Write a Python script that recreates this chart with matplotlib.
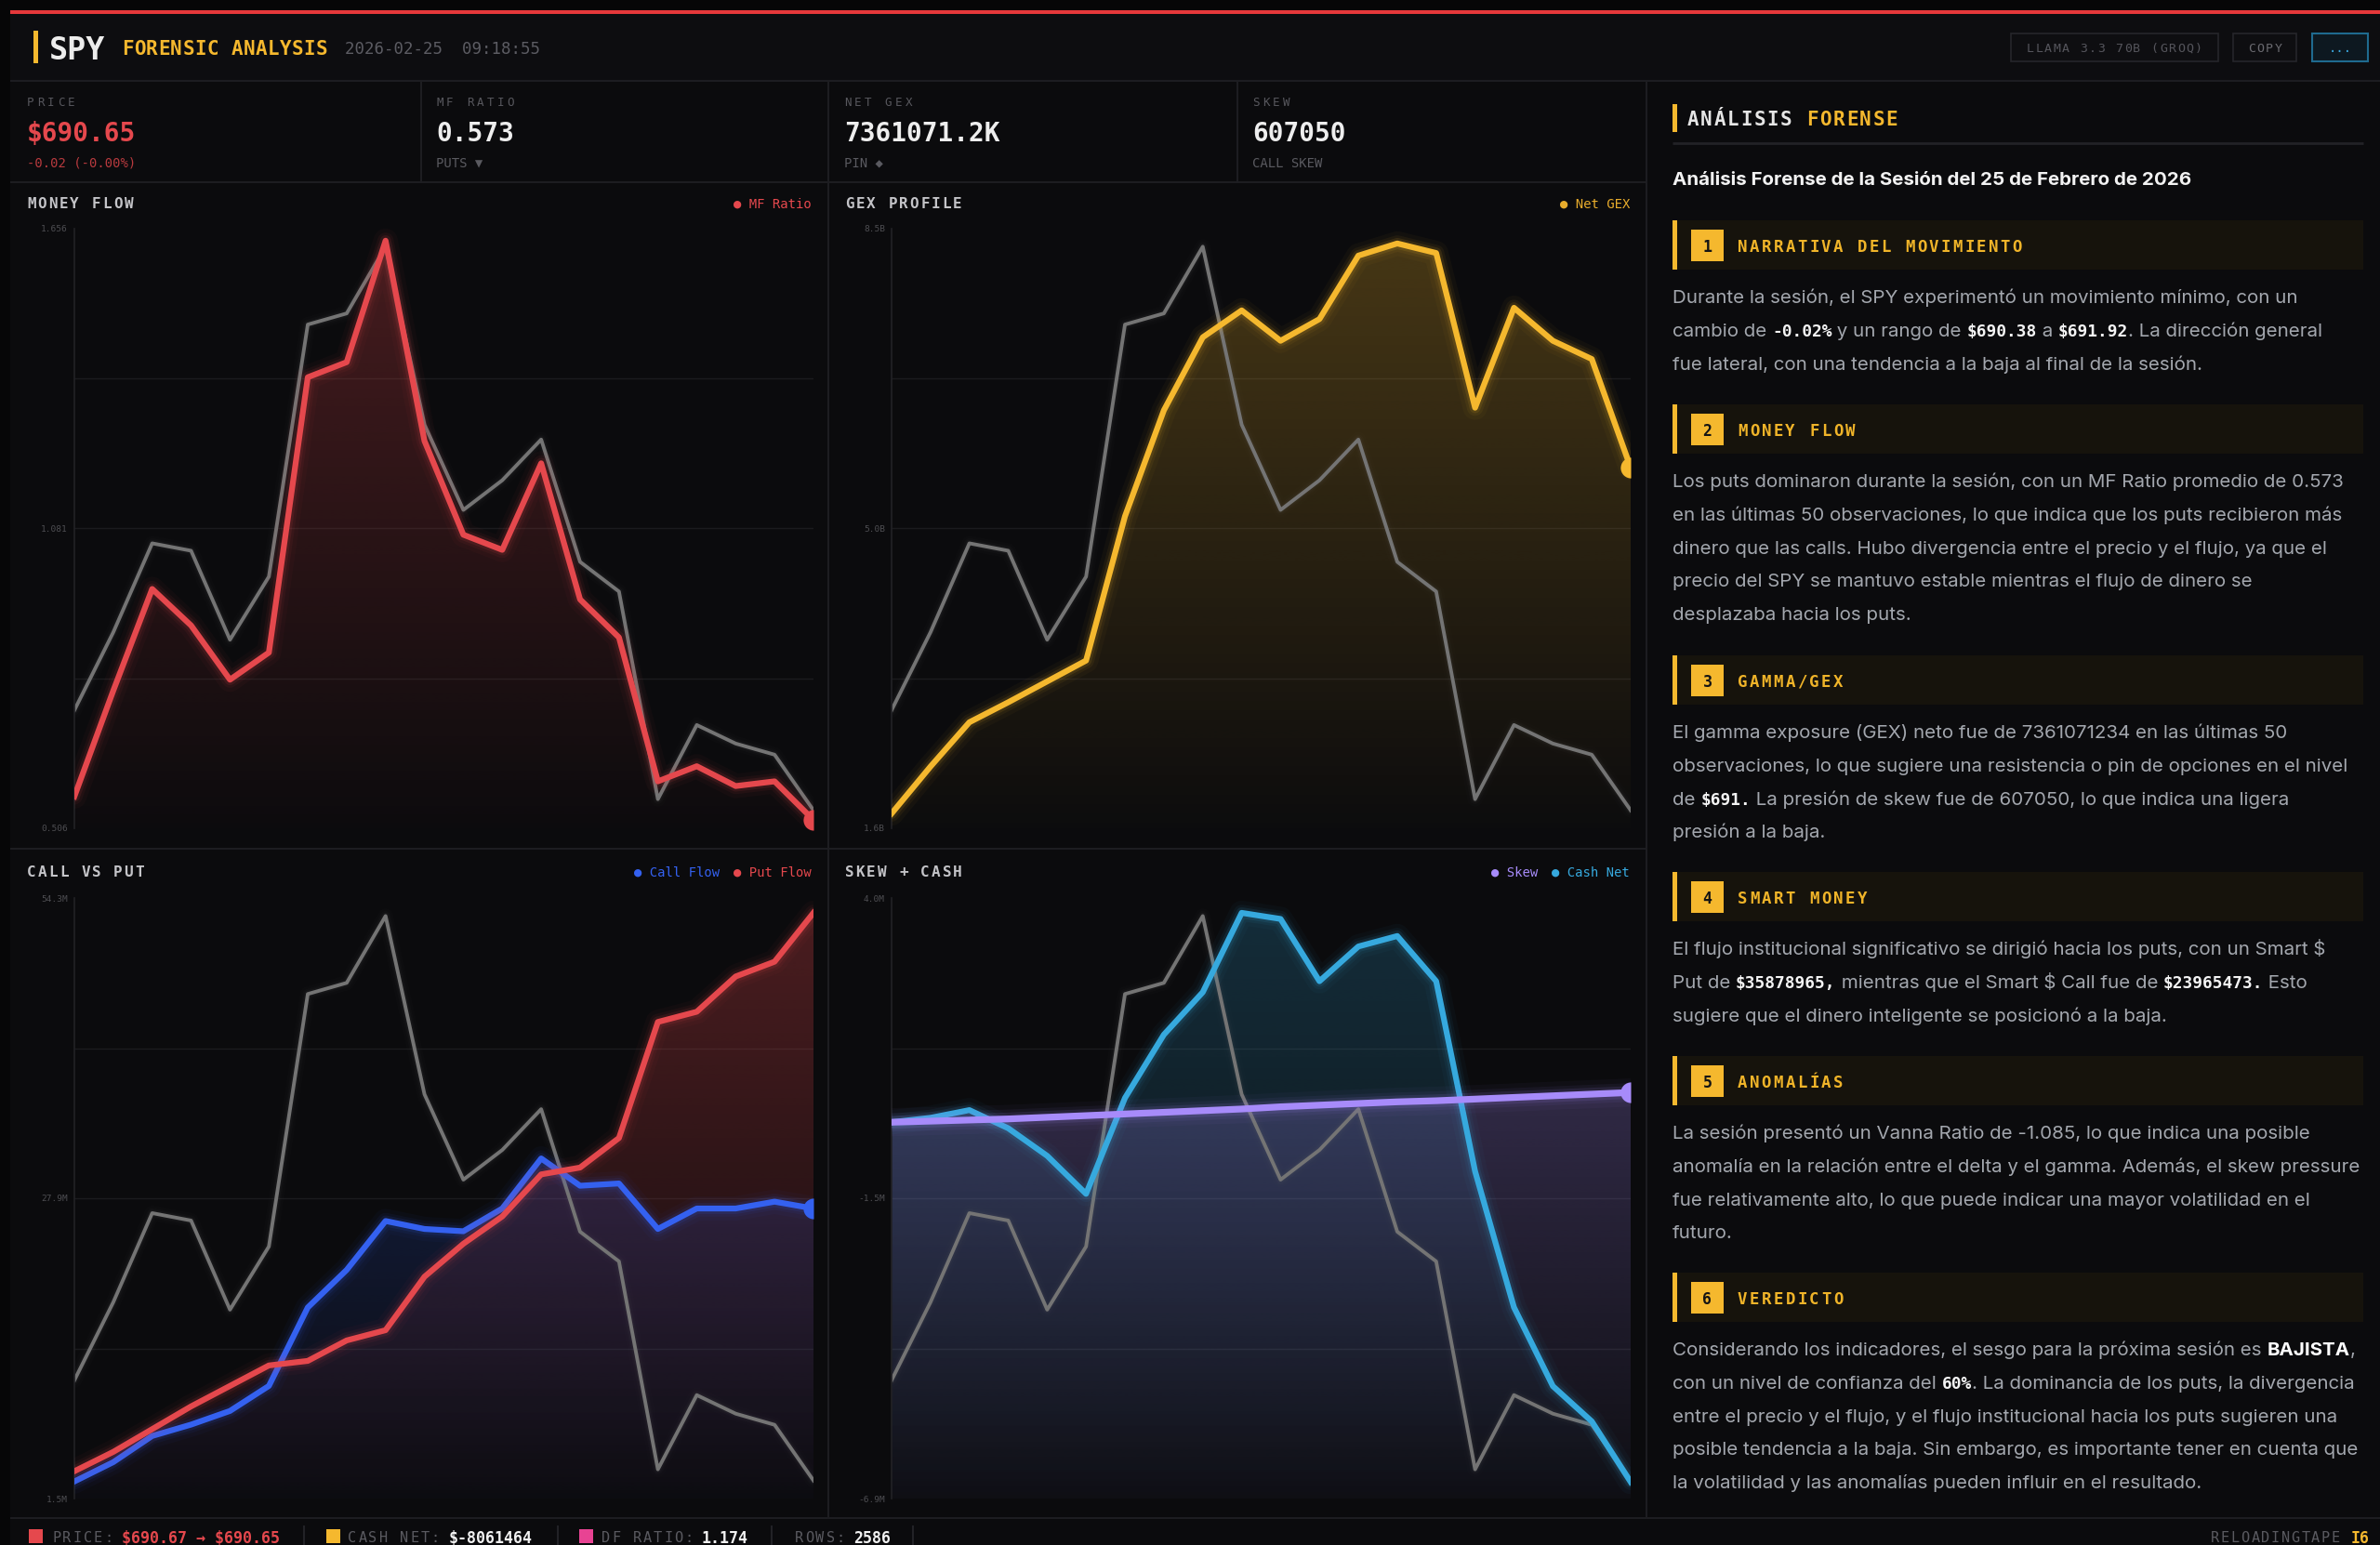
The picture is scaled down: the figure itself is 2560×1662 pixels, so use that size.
import numpy as np
import matplotlib
matplotlib.use("Agg")
import matplotlib.pyplot as plt
import matplotlib.colors as mcolors
from matplotlib.patches import Rectangle, Polygon

plt.rcParams['text.parse_math'] = False

W, H = 2560, 1662
MONO = ['DejaVu Sans Mono', 'DejaVu Sans']
SANS = ['Inter', 'DejaVu Sans']

# ---- values (20 samples per series) ----
price = [690.66, 690.87, 691.11, 691.09, 690.85, 691.02, 691.70, 691.73, 691.91, 691.43,
         691.20, 691.28, 691.39, 691.06, 690.98, 690.42, 690.62, 690.57, 690.54, 690.39]
mf_ratio = [0.567, 0.770, 0.965, 0.895, 0.791, 0.843, 1.371, 1.400, 1.633, 1.249,
            1.069, 1.040, 1.206, 0.945, 0.872, 0.596, 0.625, 0.587, 0.596, 0.522]
net_gex = [1.77, 2.31, 2.82, 3.05, 3.29, 3.53, 5.19, 6.41, 7.25, 7.56,
           7.21, 7.46, 8.19, 8.33, 8.22, 6.44, 7.59, 7.21, 7.00, 5.75]      # B
call_flow = [3.0, 4.7, 7.0, 8.0, 9.2, 11.4, 18.3, 21.6, 25.9, 25.2,
             25.0, 27.0, 31.4, 29.0, 29.2, 25.2, 27.0, 27.0, 27.6, 27.0]   # M
put_flow = [3.9, 5.6, 7.6, 9.6, 11.4, 13.2, 13.6, 15.4, 16.3, 21.0,
            23.9, 26.3, 30.0, 30.6, 33.2, 43.4, 44.3, 47.4, 48.7, 53.0]    # M
skew = [-0.07, -0.05, -0.03, -0.01, 0.02, 0.05, 0.08, 0.11, 0.14, 0.17,
        0.21, 0.24, 0.27, 0.30, 0.32, 0.35, 0.38, 0.41, 0.44, 0.47]        # M
cash_net = [-0.07, 0.01, 0.15, -0.18, -0.68, -1.37, 0.37, 1.52, 2.29, 3.73,
            3.62, 2.49, 3.12, 3.31, 2.49, -0.96, -3.43, -4.86, -5.50, -6.60]  # M

mf_ticks, mf_tick_labels = [0.506, 1.081, 1.656], ["0.506", "1.081", "1.656"]
gex_ticks, gex_tick_labels = [1.6, 5.05, 8.5], ["1.6B", "5.0B", "8.5B"]
cvp_ticks, cvp_tick_labels = [1.5, 27.9, 54.3], ["1.5M", "27.9M", "54.3M"]
sc_ticks, sc_tick_labels = [-6.9, -1.45, 4.0], ["-6.9M", "-1.5M", "4.0M"]

stat_labels = ["PRICE", "MF RATIO", "NET GEX", "SKEW"]
stat_values = ["$690.65", "0.573", "7361071.2K", "607050"]
stat_notes = ["-0.02 (-0.00%)", "PUTS ▼", "PIN ◆", "CALL SKEW"]

subtitle = "Análisis Forense de la Sesión del 25 de Febrero de 2026"
section_titles = ["NARRATIVA DEL MOVIMIENTO", "MONEY FLOW", "GAMMA/GEX",
                  "SMART MONEY", "ANOMALÍAS", "VEREDICTO"]
section_lines = [
    ["Durante la sesión, el SPY experimentó un movimiento mínimo, con un",
     [("cambio de ", "n"), ("-0.02%", "m"), (" y un rango de ", "n"), ("$690.38", "m"),
      (" a ", "n"), ("$691.92", "m"), (". La dirección general", "n")],
     "fue lateral, con una tendencia a la baja al final de la sesión."],
    ["Los puts dominaron durante la sesión, con un MF Ratio promedio de 0.573",
     "en las últimas 50 observaciones, lo que indica que los puts recibieron más",
     "dinero que las calls. Hubo divergencia entre el precio y el flujo, ya que el",
     "precio del SPY se mantuvo estable mientras el flujo de dinero se",
     "desplazaba hacia los puts."],
    ["El gamma exposure (GEX) neto fue de 7361071234 en las últimas 50",
     "observaciones, lo que sugiere una resistencia o pin de opciones en el nivel",
     [("de ", "n"), ("$691.", "m"), (" La presión de skew fue de 607050, lo que indica una ligera", "n")],
     "presión a la baja."],
    ["El flujo institucional significativo se dirigió hacia los puts, con un Smart $",
     [("Put de ", "n"), ("$35878965,", "m"), (" mientras que el Smart $ Call fue de ", "n"),
      ("$23965473.", "m"), (" Esto", "n")],
     "sugiere que el dinero inteligente se posicionó a la baja."],
    ["La sesión presentó un Vanna Ratio de -1.085, lo que indica una posible",
     "anomalía en la relación entre el delta y el gamma. Además, el skew pressure",
     "fue relativamente alto, lo que puede indicar una mayor volatilidad en el",
     "futuro."],
    [[("Considerando los indicadores, el sesgo para la próxima sesión es ", "n"), ("BAJISTA", "b"), (",", "n")],
     [("con un nivel de confianza del ", "n"), ("60%", "m"), (". La dominancia de los puts, la divergencia", "n")],
     "entre el precio y el flujo, y el flujo institucional hacia los puts sugieren una",
     "posible tendencia a la baja. Sin embargo, es importante tener en cuenta que",
     "la volatilidad y las anomalías pueden influir en el resultado."],
]
section_tops = [237, 435, 705, 938, 1136, 1369]

footer_labels = ["PRICE:", "CASH NET:", "DF RATIO:", "ROWS:"]
footer_values = ["$690.67 → $690.65", "$-8061464", "1.174", "2586"]

RED = '#e5484d'; YEL = '#f5b82e'; BLUE = '#3461f0'; PURP = '#a78bfa'
CYAN = '#36a9de'; GRAY = '#747474'; PINK = '#e84393'

fig = plt.figure(figsize=(W / 100, H / 100), dpi=100)
fig.patch.set_facecolor('#060607')
ax0 = fig.add_axes([0, 0, 1, 1])
ax0.set_xlim(0, W); ax0.set_ylim(H, 0); ax0.axis('off')
R = fig.canvas.get_renderer()


def rect(x, y, w, h, fc, ec='none', lw=0, z=0):
    ax0.add_patch(Rectangle((x, y), w, h, fc=fc, ec=ec, lw=lw, zorder=z))


def hline(y, x0, x1, c='#1d1d21', lw=1.5):
    ax0.plot([x0, x1], [y, y], color=c, lw=lw, zorder=1, solid_capstyle='butt')


def vline(x, y0, y1, c='#1d1d21', lw=1.5):
    ax0.plot([x, x], [y0, y1], color=c, lw=lw, zorder=1, solid_capstyle='butt')


def mono(x, y, s, size, color, track=0.0, weight='normal', ha='left', z=3):
    adv = 0.6021 * size / 0.72
    step = adv + track
    total = step * len(s) - track
    if ha == 'right':
        x -= total
    elif ha == 'center':
        x -= total / 2
    if track == 0:
        ax0.text(x, y, s, family=MONO, size=size, color=color, weight=weight,
                 va='center_baseline', ha='left', zorder=z)
    else:
        for i, ch in enumerate(s):
            if ch != ' ':
                ax0.text(x + i * step + adv / 2, y, ch, family=MONO, size=size, color=color,
                         weight=weight, va='center_baseline', ha='center', zorder=z)
    return x + step * len(s)


def run_w(s, props):
    t1 = ax0.text(0, 0, s + '|', **props)
    t2 = ax0.text(0, 0, '|', **props)
    w = t1.get_window_extent(R).width - t2.get_window_extent(R).width
    t1.remove(); t2.remove()
    return w


# ---- frame ----
rect(11, 11, W - 11, H - 11, '#0b0b0d')
rect(11, 15, W - 11, 72, '#0d0d10')
rect(11, 11, W - 11, 4, '#e5383b', z=2)
hline(87, 11, W); hline(196, 11, 1771); hline(913, 11, 1771); hline(1633, 11, W)
for xd in [453, 891, 1331]:
    vline(xd, 88, 196)
vline(891, 196, 1633); vline(1771, 88, 1633)

# ---- header ----
rect(36, 33, 5, 35, YEL, z=2)
mono(53, 51, "SPY", 24, '#ececec', weight='bold')
mono(131, 51, "FORENSIC ANALYSIS", 15, YEL, track=0.5, weight='bold')
mono(371, 51, "2026-02-25  09:18:55", 12.5, '#5c5c63')
rect(2163, 36, 223, 30, '#0e0e11', ec='#26262b', lw=1.2, z=1)
mono(2274.5, 51, "LLAMA 3.3 70B (GROQ)", 9.5, '#55555c', track=1.6, ha='center')
rect(2402, 36, 68, 30, '#0e0e11', ec='#26262b', lw=1.2, z=1)
mono(2436, 51, "COPY", 9.5, '#6a6a70', track=1.6, ha='center')
rect(2487, 36, 60, 30, '#0d1820', ec='#1f6a8f', lw=1.5, z=1)
mono(2517, 51, "...", 10, '#3aa6dd', ha='center')

# ---- stat row ----
for i, xs in enumerate([29, 469, 908, 1347]):
    mono(xs, 109, stat_labels[i], 9, '#58585e', track=3.4)
    mono(xs, 141, stat_values[i], 20, RED if i == 0 else '#eeeeee', weight='bold')
    mono(xs, 174, stat_notes[i], 10, '#b83a3e' if i == 0 else '#5a5a60')

# ---- chart panels ----
x = np.arange(len(price))
pn = (np.array(price) - min(price)) / (max(price) - min(price))


def make_ax(x0, y0, x1, y1, lo, hi, ticks, labels):
    a = fig.add_axes([x0 / W, 1 - y1 / H, (x1 - x0) / W, (y1 - y0) / H])
    a.set_facecolor('none')
    for s in ['top', 'right', 'bottom']:
        a.spines[s].set_visible(False)
    a.spines['left'].set_color('#222226'); a.spines['left'].set_linewidth(1.2)
    a.set_xticks([])
    a.set_yticks(ticks, labels)
    a.tick_params(axis='y', length=0, pad=5, labelsize=6.8, labelcolor='#4e4e52')
    for t in a.get_yticklabels():
        t.set_family(MONO)
    for f in [0.25, 0.5, 0.75]:
        a.axhline(lo + f * (hi - lo), color='#1b1b1e', lw=1, zorder=0.5)
    return a


def grad_fill(a, y, color, lo, hi, a_top, a_bot=0.0, z=1):
    img = np.zeros((200, 1, 4))
    img[..., :3] = mcolors.to_rgb(color)
    img[..., 3] = np.linspace(a_bot, a_top, 200)[:, None]
    im = a.imshow(img, aspect='auto', origin='lower', extent=[x[0], x[-1], lo, hi],
                  interpolation='bilinear', zorder=z)
    verts = np.column_stack([np.r_[x[0], x, x[-1]], np.r_[lo, y, lo]])
    poly = Polygon(verts, closed=True, fc='none', ec='none', transform=a.transData)
    a.add_patch(poly)
    im.set_clip_path(poly)


def glow(a, y, color, lw, z=3, strength=1.0):
    for k, al in [(4.2, 0.035), (2.8, 0.06), (1.9, 0.11)]:
        a.plot(x, y, color=color, lw=lw * k, alpha=al * strength, zorder=z,
               solid_capstyle='round', solid_joinstyle='round')
    a.plot(x, y, color=color, lw=lw, zorder=z + 0.5, solid_joinstyle='round')


def end_dot(a, y, color):
    # half dot sitting on the right edge of the plot
    a.plot(x[-1], y[-1], 'o', ms=16, color=color, fillstyle='left', mew=0,
           zorder=6, clip_on=False)


def price_line(a, lo, hi):
    py = lo + (hi - lo) * (0.03 + 0.94 * pn)
    glow(a, py, GRAY, 2.8, z=2, strength=0.6)


def finish(a, lo, hi):
    a.set_xlim(x[0], x[-1]); a.set_ylim(lo, hi)


def panel_head(x0, y, title, items, xr):
    mono(x0, y, title, 11.5, '#c4c4c8', track=2, weight='bold')
    for lab, col in reversed(items):
        s = "● " + lab
        mono(xr, y, s, 10, col, ha='right')
        xr -= 0.6021 * 10 / 0.72 * len(s) + 15


# money flow
lo, hi = 0.506, 1.656
a1 = make_ax(80, 246, 875, 891, lo, hi, mf_ticks, mf_tick_labels)
grad_fill(a1, mf_ratio, RED, lo, hi, 0.28, 0.01)
price_line(a1, lo, hi)
glow(a1, mf_ratio, RED, 4.5)
end_dot(a1, mf_ratio, RED)
finish(a1, lo, hi)
panel_head(29, 218, "MONEY FLOW", [("MF Ratio", RED)], 873)

# gex profile
lo, hi = 1.6, 8.5
a2 = make_ax(959, 246, 1754, 891, lo, hi, gex_ticks, gex_tick_labels)
grad_fill(a2, net_gex, YEL, lo, hi, 0.26, 0.01)
price_line(a2, lo, hi)
glow(a2, net_gex, YEL, 4.5)
end_dot(a2, net_gex, YEL)
finish(a2, lo, hi)
panel_head(909, 218, "GEX PROFILE", [("Net GEX", '#e8ac2c')], 1753)

# call vs put
lo, hi = 1.5, 54.3
a3 = make_ax(80, 966, 875, 1612, lo, hi, cvp_ticks, cvp_tick_labels)
grad_fill(a3, put_flow, RED, lo, hi, 0.30, 0.01)
grad_fill(a3, call_flow, BLUE, lo, hi, 0.32, 0.02)
price_line(a3, lo, hi)
glow(a3, call_flow, BLUE, 4.5)
glow(a3, put_flow, RED, 4.5, z=4)
end_dot(a3, call_flow, BLUE)
finish(a3, lo, hi)
panel_head(29, 937, "CALL VS PUT", [("Call Flow", BLUE), ("Put Flow", RED)], 873)

# skew + cash
lo, hi = -6.9, 4.0
a4 = make_ax(959, 966, 1754, 1612, lo, hi, sc_ticks, sc_tick_labels)
grad_fill(a4, cash_net, CYAN, lo, hi, 0.22, 0.01)
grad_fill(a4, skew, PURP, lo, hi, 0.34, 0.03)
price_line(a4, lo, hi)
glow(a4, cash_net, CYAN, 4.5)
glow(a4, skew, PURP, 5.2, z=4)
end_dot(a4, skew, PURP)
finish(a4, lo, hi)
panel_head(909, 937, "SKEW + CASH", [("Skew", PURP), ("Cash Net", CYAN)], 1753)

# ---- analysis panel ----
rect(1799, 112, 5, 30, YEL, z=2)
nx = mono(1815, 127, "ANÁLISIS ", 15, '#e6e6e6', track=1.7, weight='bold')
mono(nx, 127, "FORENSE", 15, YEL, track=1.7, weight='bold')
hline(154, 1799, 2542, c='#222226', lw=2)

SUB = 10 * 560 / run_w(subtitle, dict(family=SANS, size=10, weight='bold'))
ax0.text(1799, 192, subtitle, family=SANS, size=SUB, weight='bold', color='#f2f2f2',
         va='center_baseline', zorder=3)

BODY = 10 * 676 / run_w(section_lines[0][0], dict(family=SANS, size=10))
STY = {
    'n': dict(family=SANS, size=BODY, color='#a3a7ae'),
    'm': dict(family=MONO, size=BODY * 0.87, color='#f4f4f4', weight='bold'),
    'b': dict(family=SANS, size=BODY, color='#ffffff', weight='bold'),
}


def rich_line(xl, yc, runs):
    base = yc + 0.36 * BODY / 0.72
    for s, k in runs:
        ax0.text(xl, base, s, va='baseline', ha='left', zorder=3, **STY[k])
        xl += run_w(s, STY[k])


for i, (title, top) in enumerate(zip(section_titles, section_tops)):
    rect(1799, top, 743, 53, '#16130c', z=1)
    rect(1799, top, 5, 53, YEL, z=2)
    rect(1819, top + 10, 35, 34, YEL, z=2)
    mono(1836.5, top + 27, str(i + 1), 12, '#141414', weight='bold', ha='center')
    mono(1869, top + 27, title, 12.5, '#f0b429', track=2.4, weight='bold')
    for j, line in enumerate(section_lines[i]):
        runs = [(line, 'n')] if isinstance(line, str) else line
        rich_line(1799, top + 53 + 29 + j * 35.6, runs)

# ---- footer ----
fy = 1653
for sx, col in [(31, RED), (351, YEL), (623, PINK)]:
    rect(sx, 1645, 15, 15, col, z=2)
for xd in [327, 600, 830, 982]:
    vline(xd, 1641, 1662, c='#222226')
for lx, vx, lab, val, col in zip([56, 374, 647, 855], [131, 483, 755, 918],
                                 footer_labels, footer_values,
                                 [RED, '#f2f2f2', '#f2f2f2', '#f2f2f2']):
    mono(lx, fy, lab, 11, '#5a5a60', track=2)
    mono(vx, fy, val, 12, col, weight='bold')
mono(2378, fy, "RELOADINGTAPE", 11, '#5a5a60', track=1.6)
mono(2529, fy, "I6", 12, YEL, weight='bold')

fig.savefig("out.png", dpi=100, facecolor=fig.get_facecolor())
